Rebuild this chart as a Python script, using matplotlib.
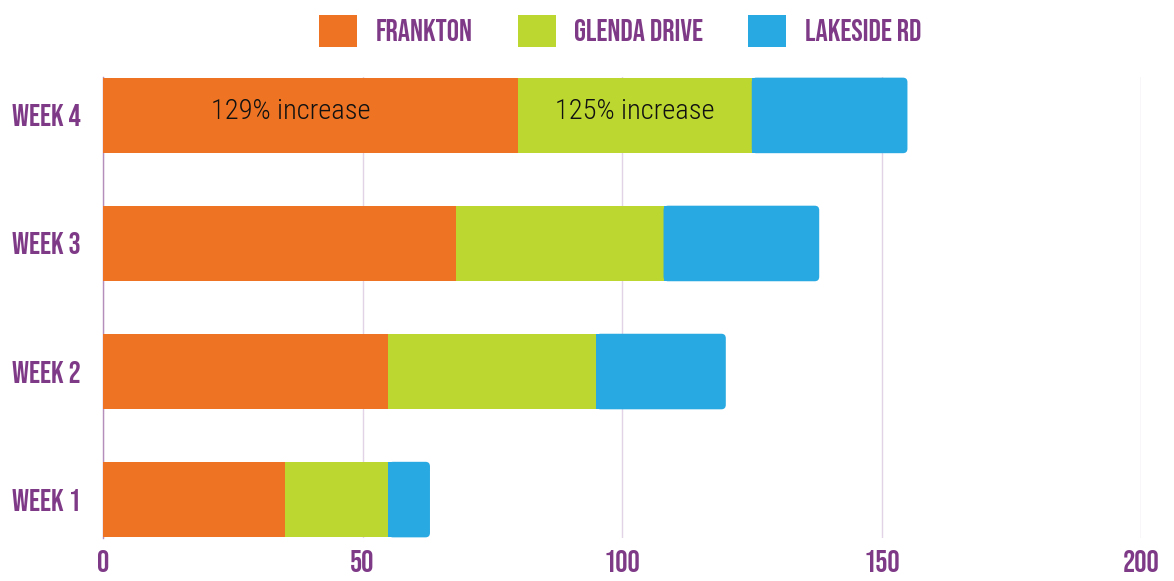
import matplotlib
matplotlib.use("Agg")
import matplotlib.pyplot as plt
from matplotlib import font_manager as fm
from matplotlib.patches import Patch, FancyBboxPatch, Rectangle

# ---- data ----
weeks = ["WEEK 1", "WEEK 2", "WEEK 3", "WEEK 4"]
frankton = [35, 55, 68, 80]
glenda = [20, 40, 40, 45]
lakeside = [8, 25, 30, 30]
series_names = ["FRANKTON", "GLENDA DRIVE", "LAKESIDE RD"]
xticks = [0, 50, 100, 150, 200]
annotations = ["129% increase", "125% increase"]

colors = ["#EE7424", "#BDD731", "#29A9E1"]
purple = "#7F3A87"
grid_c = "#E3D3E6"

available = {f.name for f in fm.fontManager.ttflist}
def pick(cands):
    for c in cands:
        if c in available:
            return c
    return "DejaVu Sans"

head_font = pick(["Bebas Neue", "Oswald", "Antonio", "Anton", "Roboto Condensed", "Liberation Sans Narrow"])
body_font = pick(["Roboto Condensed", "Barlow Condensed", "Archivo Narrow", "Liberation Sans Narrow"])

fig = plt.figure(figsize=(11.74, 5.81), dpi=100)
ax = fig.add_axes([103 / 1174, 43 / 581, (1141 - 103) / 1174, (538 - 77) / 581])

y = list(range(len(weeks)))
h = 0.59
left = [0] * len(weeks)
bars_all = []
for vals, c in zip([frankton, glenda, lakeside], colors):
    bars = ax.barh(y, vals, left=left, height=h, color=c, edgecolor="none", zorder=3)
    bars_all.append(bars)
    left = [l + v for l, v in zip(left, vals)]

ax.set_xlim(0, 200)
ax.set_ylim(-0.5 * h - 0.005, len(weeks) - 1 + 0.5 * h + 0.005)

# rounded right end of the stacked bars
fig.canvas.draw()
p0 = ax.transData.transform((0, 0))
p1 = ax.transData.transform((1, 1))
px_x = p1[0] - p0[0]
px_y = p1[1] - p0[1]
r_px = 4.5
for b in bars_all[-1]:
    b.set_visible(False)
    x0, y0, w, hh = b.get_x(), b.get_y(), b.get_width(), b.get_height()
    fb = FancyBboxPatch((x0, y0), w, hh,
                        boxstyle=f"round,pad=0,rounding_size={r_px / px_x}",
                        mutation_aspect=px_x / px_y,
                        facecolor=b.get_facecolor(), edgecolor="none", zorder=3)
    ax.add_patch(fb)
    ax.add_patch(Rectangle((x0, y0), w / 2, hh, facecolor=b.get_facecolor(),
                           edgecolor="none", zorder=3))

ax.set_xticks(xticks)
ax.set_xticklabels([str(t) for t in xticks])
ax.set_yticks(y)
ax.set_yticklabels(weeks)
ax.tick_params(axis="both", length=0, colors=purple)
for lab in ax.get_xticklabels() + ax.get_yticklabels():
    lab.set_fontfamily(head_font)
    lab.set_fontsize(22)
    lab.set_fontweight("bold")
    lab.set_color(purple)
ax.tick_params(axis="x", pad=9)
ax.tick_params(axis="y", pad=16)
for s in ["top", "right", "bottom"]:
    ax.spines[s].set_visible(False)
ax.spines["left"].set_color("#B58EBB")
ax.spines["left"].set_linewidth(1)
ax.grid(axis="x", color=grid_c, linewidth=1, zorder=0)
ax.grid(axis="y", visible=False)

# annotations on week 4
top = len(weeks) - 1
offsets = [-14, 0]
for bars, txt, off in zip(bars_all[:2], annotations, offsets):
    b = bars[top]
    ax.annotate(txt, (b.get_x() + b.get_width() / 2, b.get_y() + b.get_height() / 2),
                xytext=(off, 3), textcoords="offset points",
                ha="center", va="center", fontsize=20.5, color="#111111",
                family=body_font, fontweight="light", zorder=5)

handles = [Patch(facecolor=c, edgecolor="none") for c in colors]
leg = fig.legend(handles, series_names, loc="center", bbox_to_anchor=(620 / 1174, 1 - 31 / 581),
                 ncol=3, frameon=False, handlelength=1.25, handleheight=1.25,
                 columnspacing=1.47, handletextpad=0.6,
                 prop={"family": head_font, "size": 22, "weight": "bold"})
for t in leg.get_texts():
    t.set_color(purple)

fig.savefig("out.png", dpi=100)
